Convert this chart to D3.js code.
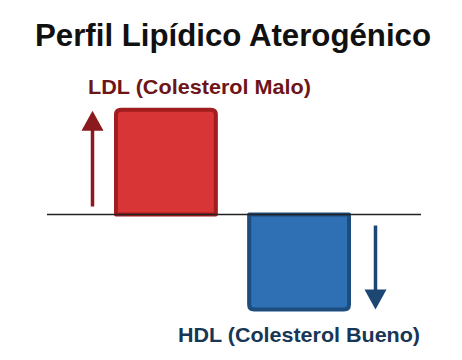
<!DOCTYPE html>
<html><head><meta charset="utf-8">
<script src="https://cdn.jsdelivr.net/npm/d3@7"></script>
<style>body{margin:0;background:#fff}svg{display:block}</style>
</head><body>
<svg id="c" width="462" height="360"></svg>
<script>
const title = "Perfil Lipídico Aterogénico";
const categories = ["LDL", "HDL"];
const labels = ["LDL (Colesterol Malo)", "HDL (Colesterol Bueno)"];
const values = [1.1, -1.0];
const fills = ["#d83636", "#2f6fb4"];
const strokes = ["#a11d1f", "#1d4d7e"];
const textColors = ["#6e1518", "#183656"];
const arrowColors = ["#8a1a1d", "#1c4773"];

const svg = d3.select("#c");
const font = "'Liberation Sans', Arial, Helvetica, sans-serif";

const x = d3.scaleBand().domain(categories).range([114, 351]).paddingInner(0.22).paddingOuter(0);
const y = d3.scaleLinear().domain([-1, 1]).range([311.5, 117.5]);
const y0 = y(0);

svg.append("text").attr("x", 35).attr("y", 45.5)
  .attr("font-family", font).attr("font-weight", "bold").attr("font-size", 30.5)
  .attr("textLength", 396).attr("lengthAdjust", "spacingAndGlyphs")
  .attr("fill", "#111").text(title);

// bars
const sw = 4, r = 5;
function barPath(d, i) {
  const x0 = x(categories[i]) + sw / 2, x1 = x(categories[i]) + x.bandwidth() - sw / 2;
  const yb = y0, yt = y(d) + (d > 0 ? sw / 2 : -sw / 2);
  const s = d > 0 ? 1 : -1;
  return `M${x0},${yb} L${x0},${yt + s * r} Q${x0},${yt} ${x0 + r},${yt} L${x1 - r},${yt} Q${x1},${yt} ${x1},${yt + s * r} L${x1},${yb}`;
}
svg.selectAll("path.bar").data(values).join("path").attr("class", "bar")
  .attr("d", (d, i) => barPath(d, i) + "Z")
  .attr("fill", (d, i) => fills[i]).attr("stroke", (d, i) => strokes[i])
  .attr("stroke-width", sw).attr("stroke-linejoin", "round");

// baseline
svg.append("line").attr("x1", 47).attr("x2", 421).attr("y1", y0).attr("y2", y0)
  .attr("stroke", "#222").attr("stroke-width", 1.6);

// arrows
const arrowX = [92.5, 375.5];
values.forEach((d, i) => {
  const ax = arrowX[i];
  const c = arrowColors[i];
  const tip = d > 0 ? y(d) + 3 : y(d) - 2;
  const start = d > 0 ? y0 - 8 : y0 + 11;
  const headLen = 20, headW = 11;
  const s = d > 0 ? 1 : -1;
  svg.append("line").attr("x1", ax).attr("x2", ax).attr("y1", start).attr("y2", tip + s * headLen - s * 2)
    .attr("stroke", c).attr("stroke-width", 3.5);
  svg.append("path").attr("d", `M${ax},${tip} L${ax - headW},${tip + s * headLen} L${ax + headW},${tip + s * headLen}Z`)
    .attr("fill", c);
});

// labels
svg.append("text").attr("x", 88).attr("y", 94).attr("font-family", font).attr("font-weight", "bold")
  .attr("font-size", 20.5).attr("textLength", 223).attr("lengthAdjust", "spacingAndGlyphs")
  .attr("fill", textColors[0]).text(labels[0]);
svg.append("text").attr("x", 178).attr("y", 341.5).attr("font-family", font).attr("font-weight", "bold")
  .attr("font-size", 20.5).attr("textLength", 242).attr("lengthAdjust", "spacingAndGlyphs")
  .attr("fill", textColors[1]).text(labels[1]);
</script>
</body></html>
